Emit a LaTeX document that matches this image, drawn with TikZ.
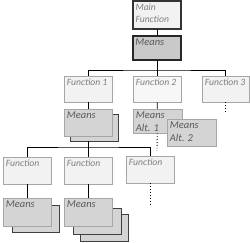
\documentclass[tikz,border=0pt]{standalone}
\usepackage{fontspec}
\setmainfont{Carlito}
\usepackage{tikz}
\usetikzlibrary{positioning}

\definecolor{funcfill}{HTML}{F2F2F2}
\definecolor{funcline}{HTML}{A6A6A6}
\definecolor{meanfill}{HTML}{D4D4D4}
\definecolor{txtgray}{HTML}{7F7F7F}
\definecolor{txtdark}{HTML}{595959}

\begin{document}
\begin{tikzpicture}[x=1pt, y=-1pt,
  func/.style={draw=funcline, fill=funcfill, minimum width=48pt, minimum height=26pt, inner sep=0pt, line width=0.6pt},
  means/.style={draw=funcline, fill=meanfill, minimum width=48pt, minimum height=27pt, inner sep=0pt, line width=0.6pt},
  back/.style={draw=black!75, fill=meanfill, minimum width=48pt, minimum height=27pt, inner sep=0pt, line width=0.6pt},
  lbl/.style={anchor=north west, inner sep=0pt, xshift=3pt, yshift=-3pt, align=left, font=\fontsize{9.6}{12}\selectfont\itshape, text=txtgray},
  mlbl/.style={lbl, font=\fontsize{10.5}{12.5}\selectfont\itshape, text=txtdark},
  conn/.style={draw=black, line width=0.9pt},
  more/.style={conn, dotted}
]
\useasboundingbox (0,0) rectangle (250,242);

% top level
\node[func, draw=black!80, line width=1.2pt, minimum height=28pt, label={[lbl]north west:Main\\Function}] (main) at (157,15) {};
\node[means, draw=black!85, fill=meanfill!95!black, line width=1.5pt, minimum height=24pt, label={[mlbl]north west:Means}] (mtop) at (157,48) {};

% functions
\node[func, label={[lbl]north west:Function 1}] (f1) at (88,89) {};
\node[func, fill=funcfill!60, label={[lbl]north west:Function 2}] (f2) at (157,89) {};
\node[func, minimum width=47pt, label={[lbl]north west:Function 3}] (f3) at (225.5,89) {};

% means of the functions
\node[back] (m1b) at (94,127.5) {};
\node[means, label={[mlbl]north west:Means}] (m1) at (88,122.5) {};
\node[means, minimum width=49pt, minimum height=24pt, label={[mlbl]north west:Means\\Alt. 1}] (alt1) at (157.5,121) {};
\node[means, minimum width=49pt, label={[mlbl]north west:Means\\Alt. 2}] (alt2) at (191.5,132.5) {};

% sub functions
\node[func, minimum height=27pt, label={[lbl]north west:Function}] (fa) at (27,170.5) {};
\node[func, minimum height=27pt, label={[lbl]north west:Function}] (fb) at (88,170.5) {};
\node[func, minimum height=27pt, label={[lbl]north west:Function}] (fc) at (150,169.5) {};

% their means
\node[back, minimum width=47pt] (mab) at (35.5,218.5) {};
\node[means, minimum height=28pt, label={[mlbl]north west:Means}] (ma) at (27,212) {};
\node[back] (mbb2) at (104,227.5) {};
\node[back, minimum height=26pt] (mbb1) at (97,221) {};
\node[means, minimum height=28pt, label={[mlbl]north west:Means}] (mb) at (88,212) {};

% tree lines
\coordinate (bus1) at (157,70);
\coordinate (bus2) at (88,147);
\draw[conn] (main) -- (mtop);
\draw[conn] (mtop) -- (bus1);
\draw[conn] (f1.north) |- (bus1) -| (f3.north);
\draw[conn] (bus1) -- (f2.north);
\draw[conn] (f1) -- (m1);
\draw[conn] (f2) -- (alt1);
\draw[conn] (m1.south |- m1b.south) -- (bus2);
\draw[conn] (fa.north) |- (bus2) -| (fc.north);
\draw[conn] (bus2) -- (fb.north);
\draw[conn] (fa) -- (ma);
\draw[conn] (fb) -- (mb);

% open ends
\coordinate (end3) at (225.5,113);
\coordinate (endalt) at (157,151);
\coordinate (endc) at (150,204);
\draw[more] (f3) -- (end3);
\draw[more] (alt1) -- (endalt);
\draw[more] (fc) -- (endc);
\end{tikzpicture}
\end{document}
